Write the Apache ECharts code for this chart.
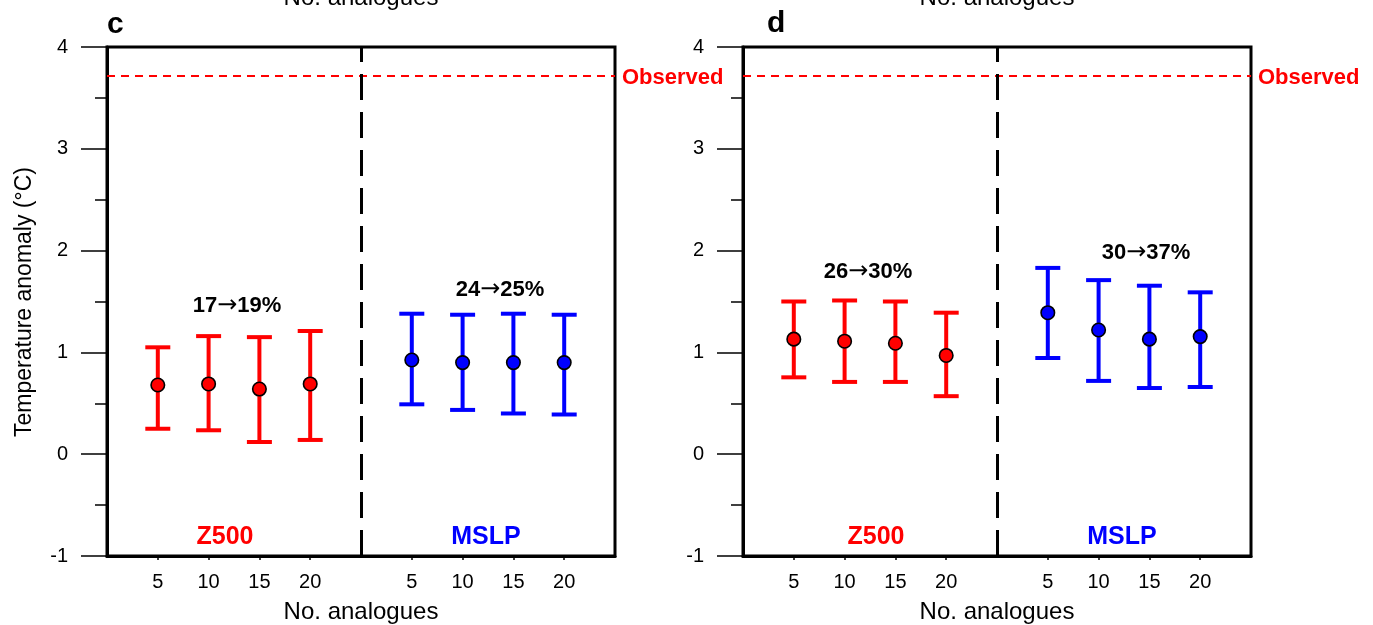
<!DOCTYPE html>
<html>
<head>
<meta charset="utf-8">
<script src="https://cdn.jsdelivr.net/npm/echarts@6/dist/echarts.min.js"></script>
<style>
html,body{margin:0;padding:0;background:#fff;}
#chart{width:1373px;height:625px;}
</style>
</head>
<body>
<div id="chart"></div>
<script>
// ---- data ----
const categories = ['5', '10', '15', '20'];   // No. analogues
const xTickLabels = ['5', '10', '15', '20', '5', '10', '15', '20'];
const observed = 3.72;

// panel c
const cZ500Mean = [0.68, 0.69, 0.64, 0.69];
const cZ500Low  = [0.25, 0.235, 0.12, 0.14];
const cZ500High = [1.05, 1.16, 1.15, 1.21];
const cMslpMean = [0.925, 0.90, 0.90, 0.90];
const cMslpLow  = [0.49, 0.435, 0.40, 0.39];
const cMslpHigh = [1.38, 1.37, 1.38, 1.37];
// panel d
const dZ500Mean = [1.13, 1.11, 1.09, 0.97];
const dZ500Low  = [0.755, 0.71, 0.71, 0.57];
const dZ500High = [1.50, 1.51, 1.50, 1.39];
const dMslpMean = [1.39, 1.22, 1.13, 1.155];
const dMslpLow  = [0.945, 0.72, 0.65, 0.66];
const dMslpHigh = [1.83, 1.71, 1.655, 1.59];

const cPercentZ500 = ['17', '19%'];
const cPercentMslp = ['24', '25%'];
const dPercentZ500 = ['26', '30%'];
const dPercentMslp = ['30', '37%'];
const yTitle = 'Temperature anomaly (\u00b0C)';
const xTitle = 'No. analogues';

// ---- build ----
const FONT = "'Liberation Sans', Arial, Helvetica, sans-serif";
const RED = '#ff0000', BLUE = '#0000ff';
// x position of each category within the panel: Z500 group 1..4, MSLP group 6..9
const z500X = categories.map((c, i) => i + 1);
const mslpX = categories.map((c, i) => i + 6);
const labelByX = {};
z500X.concat(mslpX).forEach((x, i) => { labelByX[x] = xTickLabels[i]; });

function errData(xs, lo, hi) { return xs.map((x, i) => [x, lo[i], hi[i]]); }
function ptData(xs, m) { return xs.map((x, i) => [x, m[i]]); }

function errSeries(idx, xs, lo, hi, color) {
  return {
    type: 'custom', xAxisIndex: idx, yAxisIndex: idx, z: 2,
    data: errData(xs, lo, hi),
    renderItem: function (params, api) {
      const x = api.value(0);
      const pl = api.coord([x, api.value(1)]);
      const ph = api.coord([x, api.value(2)]);
      const hw = 12.5;
      const st = { stroke: color, lineWidth: 4 };
      return {
        type: 'group',
        children: [
          { type: 'line', shape: { x1: pl[0], y1: pl[1], x2: ph[0], y2: ph[1] }, style: st },
          { type: 'line', shape: { x1: ph[0] - hw, y1: ph[1], x2: ph[0] + hw, y2: ph[1] }, style: st },
          { type: 'line', shape: { x1: pl[0] - hw, y1: pl[1], x2: pl[0] + hw, y2: pl[1] }, style: st }
        ]
      };
    }
  };
}
function ptSeries(idx, xs, m, color) {
  return {
    type: 'scatter', xAxisIndex: idx, yAxisIndex: idx, z: 5,
    symbol: 'circle', symbolSize: 13.5,
    itemStyle: { color: color, borderColor: '#000', borderWidth: 1.6, opacity: 1 },
    data: ptData(xs, m)
  };
}
function markSeries(idx) {
  return {
    type: 'line', xAxisIndex: idx, yAxisIndex: idx, data: [], z: 3,
    markLine: {
      silent: true, symbol: 'none', animation: false,
      data: [
        { yAxis: observed, lineStyle: { color: RED, width: 2, type: [8, 6] },
          label: { show: true, position: 'end', formatter: 'Observed', color: RED,
                   fontFamily: FONT, fontWeight: 'bold', fontSize: 22, distance: 7, offset: [0, 2] } },
        { xAxis: 5, lineStyle: { color: '#000', width: 3, type: [26, 12] }, label: { show: false } }
      ]
    }
  };
}

const grids = [
  { left: 107, top: 47, width: 508, height: 509 },
  { left: 743, top: 47, width: 508, height: 509 }
];
const xAxes = [0, 1].map(i => ({
  type: 'value', gridIndex: i, min: 0, max: 10, interval: 1,
  axisLine: { show: true, onZero: false, lineStyle: { color: '#000', width: 3 } },
  axisTick: { show: true, customValues: z500X.concat(mslpX), length: 4, lineStyle: { color: '#000', width: 1.5 } },
  axisLabel: { show: true, customValues: z500X.concat(mslpX), formatter: v => labelByX[v] || '',
               color: '#000', fontFamily: FONT, fontSize: 20, margin: 16 },
  splitLine: { show: false }
}));
const yAxes = [0, 1].map(i => ({
  type: 'value', gridIndex: i, min: -1, max: 4, interval: 1,
  axisLine: { show: true, onZero: false, lineStyle: { color: '#000', width: 3 } },
  axisTick: { show: true, inside: false, length: 26, lineStyle: { color: '#000', width: 1.5 } },
  minorTick: { show: true, splitNumber: 2, length: 12, lineStyle: { color: '#000', width: 1.5 } },
  axisLabel: { color: '#000', fontFamily: FONT, fontSize: 20, margin: 39 },
  splitLine: { show: false }
}));

function txt(x, y, text, opt) {
  return {
    type: 'text', x: x, y: y, z: 10,
    style: Object.assign({ text: text, fill: '#000', font: '20px ' + FONT, align: 'center', verticalAlign: 'middle' }, opt || {})
  };
}
function pct(x, y, pair) {
  return txt(x, y, '{n|' + pair[0] + '}{a|\u2192}{n|' + pair[1] + '}', {
    font: 'bold 22px ' + FONT,
    rich: {
      n: { font: 'bold 22px ' + FONT, fill: '#000' },
      a: { font: "normal 24px 'DejaVu Sans', sans-serif", fill: '#000' }
    }
  });
}

const graphic = [
  txt(361, -2, xTitle, { font: '24px ' + FONT }),
  txt(997, -2, xTitle, { font: '24px ' + FONT }),
  txt(361, 612, xTitle, { font: '24px ' + FONT }),
  txt(997, 612, xTitle, { font: '24px ' + FONT }),
  txt(107, 25, 'c', { font: 'bold 30px ' + FONT, align: 'left' }),
  txt(767, 24, 'd', { font: 'bold 30px ' + FONT, align: 'left' }),
  txt(225, 537, 'Z500', { font: 'bold 25px ' + FONT, fill: RED }),
  txt(486, 537, 'MSLP', { font: 'bold 25px ' + FONT, fill: BLUE }),
  txt(876, 537, 'Z500', { font: 'bold 25px ' + FONT, fill: RED }),
  txt(1122, 537, 'MSLP', { font: 'bold 25px ' + FONT, fill: BLUE }),
  pct(237, 306, cPercentZ500),
  pct(500, 290, cPercentMslp),
  pct(868, 272, dPercentZ500),
  pct(1146, 253, dPercentMslp),
  Object.assign(txt(0, 0, yTitle, { font: '23px ' + FONT }), { x: 25, y: 302, rotation: Math.PI / 2 })
];

const chart = echarts.init(document.getElementById('chart'), null, { renderer: 'canvas' });
chart.setOption({
  animation: false,
  backgroundColor: '#fff',
  grid: grids.map(g => Object.assign({ show: true, borderColor: '#000', borderWidth: 3, backgroundColor: 'transparent' }, g)),
  xAxis: xAxes,
  yAxis: yAxes,
  graphic: graphic,
  series: [
    markSeries(0), markSeries(1),
    errSeries(0, z500X, cZ500Low, cZ500High, RED),
    errSeries(0, mslpX, cMslpLow, cMslpHigh, BLUE),
    errSeries(1, z500X, dZ500Low, dZ500High, RED),
    errSeries(1, mslpX, dMslpLow, dMslpHigh, BLUE),
    ptSeries(0, z500X, cZ500Mean, RED),
    ptSeries(0, mslpX, cMslpMean, BLUE),
    ptSeries(1, z500X, dZ500Mean, RED),
    ptSeries(1, mslpX, dMslpMean, BLUE)
  ]
});
</script>
</body>
</html>
